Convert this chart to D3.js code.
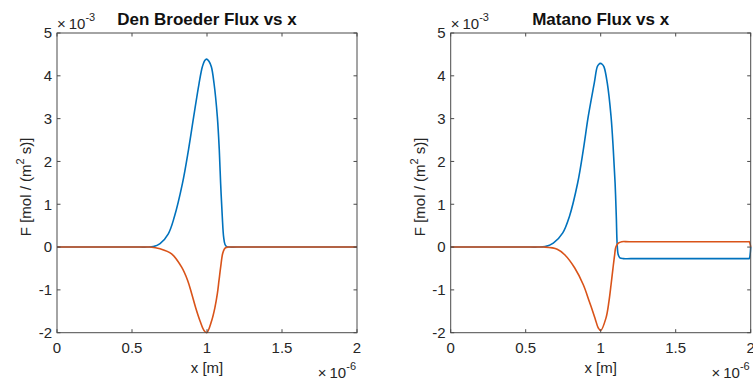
<!DOCTYPE html>
<html>
<head>
<meta charset="utf-8">
<script src="https://cdn.jsdelivr.net/npm/d3@7"></script>
<style>
  html, body { margin: 0; padding: 0; background: #fff; }
  svg { display: block; }
  text { font-family: "Liberation Sans", Arial, Helvetica, sans-serif; fill: #262626; }
</style>
</head>
<body>
<svg id="chart" width="753" height="381"></svg>
<script>
// x positions in units of 1e-6 m, flux values in units of 1e-3 mol/(m^2 s)
const denBroederX1 = [0, 0.55, 0.60, 0.642, 0.687, 0.742, 0.782, 0.836, 0.876, 0.911, 0.947, 0.969, 0.985, 0.998, 1.013, 1.029, 1.047, 1.069, 1.082, 1.091, 1.102, 1.111, 1.120, 1.131, 1.15, 1.20, 2.0];
const denBroederF1 = [0, 0, 0, 0.01, 0.08, 0.31, 0.70, 1.48, 2.26, 3.04, 3.82, 4.21, 4.36, 4.39, 4.34, 4.21, 3.82, 3.04, 2.26, 1.48, 0.70, 0.23, 0.06, 0.01, 0, 0, 0];
const denBroederX2 = [0, 0.57, 0.62, 0.687, 0.764, 0.831, 0.871, 0.898, 0.924, 0.953, 0.980, 0.998, 1.031, 1.053, 1.069, 1.080, 1.091, 1.104, 1.115, 1.127, 1.14, 1.19, 2.0];
const denBroederF2 = [0, 0, 0, -0.04, -0.157, -0.47, -0.78, -1.09, -1.41, -1.72, -1.95, -2.0, -1.72, -1.41, -1.09, -0.78, -0.47, -0.157, -0.05, -0.01, 0, 0, 0];

const matanoX1 = [0, 0.53, 0.58, 0.629, 0.684, 0.747, 0.791, 0.846, 0.884, 0.917, 0.957, 0.977, 0.988, 0.997, 1.010, 1.022, 1.044, 1.069, 1.084, 1.096, 1.104, 1.110, 1.117, 1.128, 1.15, 1.20, 1.985, 1.99, 2.0];
const matanoF1 = [0, 0, 0, 0.01, 0.09, 0.33, 0.71, 1.49, 2.27, 3.05, 3.83, 4.21, 4.27, 4.29, 4.27, 4.21, 3.83, 3.05, 2.27, 1.49, 0.71, 0.05, -0.18, -0.25, -0.27, -0.27, -0.27, -0.27, 0];
const matanoX2 = [0, 0.57, 0.62, 0.71, 0.76, 0.827, 0.884, 0.924, 0.962, 0.984, 1.0, 1.035, 1.055, 1.069, 1.082, 1.093, 1.101, 1.117, 1.14, 1.19, 1.985, 1.99, 2.0];
const matanoF2 = [0, 0, 0, -0.05, -0.18, -0.49, -0.88, -1.27, -1.66, -1.89, -1.95, -1.66, -1.27, -0.88, -0.49, -0.18, 0.0, 0.09, 0.125, 0.125, 0.125, 0.125, 0];

const xTicks = [0, 0.5, 1, 1.5, 2];
const yTicks = [-2, -1, 0, 1, 2, 3, 4, 5];
const titles = ["Den Broeder Flux vs x", "Matano Flux vs x"];
const blue = "#0072BD", orange = "#D95319";

const svg = d3.select("#chart");

function drawPanel(left, title, series) {
  const right = left + 300, top = 33, bottom = 332.7;
  const x = d3.scaleLinear().domain([0, 2]).range([left, right]);
  const y = d3.scaleLinear().domain([-2, 5]).range([bottom, top]);
  const g = svg.append("g");

  // curves
  const line = d3.line().x(d => x(d[0])).y(d => y(d[1])).curve(d3.curveCatmullRom.alpha(0.5));
  series.forEach(s => {
    g.append("path")
      .datum(d3.zip(s.x, s.f))
      .attr("d", line)
      .attr("fill", "none")
      .attr("stroke", s.color)
      .attr("stroke-width", 1.6)
      .attr("stroke-linejoin", "round");
  });

  // box
  g.append("rect")
    .attr("x", left).attr("y", top)
    .attr("width", right - left).attr("height", bottom - top)
    .attr("fill", "none").attr("stroke", "#4a4a4a").attr("stroke-width", 1);

  // inward ticks on all four sides
  const tl = 3.5;
  xTicks.forEach(t => {
    g.append("line").attr("x1", x(t)).attr("x2", x(t)).attr("y1", bottom).attr("y2", bottom - tl).attr("stroke", "#4a4a4a");
    g.append("line").attr("x1", x(t)).attr("x2", x(t)).attr("y1", top).attr("y2", top + tl).attr("stroke", "#4a4a4a");
    g.append("text").attr("x", x(t)).attr("y", 352.5).attr("text-anchor", "middle")
      .attr("font-size", 15).text(d3.format("")(t));
  });
  yTicks.forEach(t => {
    g.append("line").attr("x1", left).attr("x2", left + tl).attr("y1", y(t)).attr("y2", y(t)).attr("stroke", "#4a4a4a");
    g.append("line").attr("x1", right).attr("x2", right - tl).attr("y1", y(t)).attr("y2", y(t)).attr("stroke", "#4a4a4a");
    g.append("text").attr("x", left - 5).attr("y", y(t) + 5.3).attr("text-anchor", "end")
      .attr("font-size", 15).text(t);
  });

  // exponent labels
  const ey = g.append("text").attr("x", left).attr("y", 29).attr("font-size", 15);
  ey.append("tspan").text("\u00d7\u200910");
  ey.append("tspan").attr("font-size", 11).attr("dy", -8).text("-3");

  const ex = g.append("text").attr("x", right - 1).attr("y", 378).attr("font-size", 15).attr("text-anchor", "end");
  ex.append("tspan").text("\u00d7\u200910");
  ex.append("tspan").attr("font-size", 11).attr("dy", -8).text("-6");

  // title
  g.append("text").attr("x", (left + right) / 2).attr("y", 25).attr("text-anchor", "middle")
    .attr("font-size", 17).attr("font-weight", "bold").style("fill", "#111").text(title);

  // axis labels
  g.append("text").attr("x", (left + right) / 2).attr("y", 373).attr("text-anchor", "middle")
    .attr("font-size", 15).text("x [m]");

  const yl = g.append("text")
    .attr("transform", `translate(${left - 26},${(top + bottom) / 2 + 4}) rotate(-90)`)
    .attr("text-anchor", "middle").attr("font-size", 15);
  yl.append("tspan").text("F [mol / (m");
  yl.append("tspan").attr("font-size", 11).attr("dy", -7).text("2");
  yl.append("tspan").attr("dy", 7).text(" s)]");
}

drawPanel(57, titles[0], [
  { x: denBroederX1, f: denBroederF1, color: blue },
  { x: denBroederX2, f: denBroederF2, color: orange }
]);
drawPanel(450.7, titles[1], [
  { x: matanoX1, f: matanoF1, color: blue },
  { x: matanoX2, f: matanoF2, color: orange }
]);
</script>
</body>
</html>
